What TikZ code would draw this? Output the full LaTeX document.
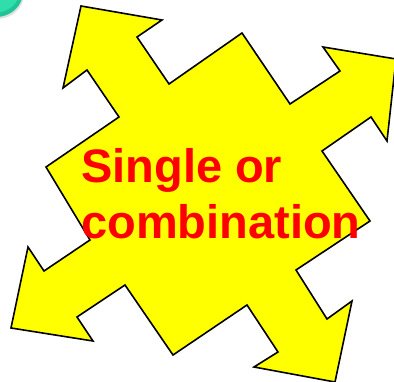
\documentclass[tikz,border=0pt]{standalone}
\usepackage{fontspec}
\newfontfamily\labelfont{Liberation Sans}
\definecolor{blobteal}{RGB}{48,222,172}
\definecolor{blobdark}{RGB}{32,196,150}
\definecolor{staryellow}{RGB}{255,255,0}
\definecolor{textred}{RGB}{255,0,0}
\tikzset{
  arrowstar/.style={fill=staryellow, draw=black, line width=1.6pt, line join=miter},
  lbl/.style={text=textred, font=\labelfont\bfseries\fontsize{47}{56}\selectfont, inner sep=0pt},
}
\begin{document}
\begin{tikzpicture}[x=1pt,y=-1pt]
\useasboundingbox (0,0) rectangle (394,382);
\clip (0,0) rectangle (394,382);
% teal blob in the corner
\fill[black!12] (-3,-6) ellipse [x radius=27, y radius=25];
\fill[blobdark] (-4,-8) ellipse [x radius=27, y radius=25];
\fill[blobteal] (-6,-10) ellipse [x radius=26, y radius=23];
% eight-arrow star
\draw[arrowstar] (81,6) -- (162,20) -- (137,37) -- (169,84) -- (242,33) -- (290,104)
  -- (340,71) -- (323,47) -- (396,59) -- (387,141) -- (371,117) -- (322,151)
  -- (370,221) -- (296,270) -- (327,319) -- (352,301) -- (335,382) -- (254,367)
  -- (278,352) -- (247,305) -- (173,355) -- (125,285) -- (77,317) -- (93,341)
  -- (11,328) -- (28,247) -- (44,271) -- (90,240) -- (46,167) -- (119,117)
  -- (87,70) -- (63,88) -- cycle;
\node[lbl, anchor=base west] (l1) at (81,183) {Single or};
\node[lbl, anchor=base west] (l2) at (81,239) {combination};
\end{tikzpicture}
\end{document}
